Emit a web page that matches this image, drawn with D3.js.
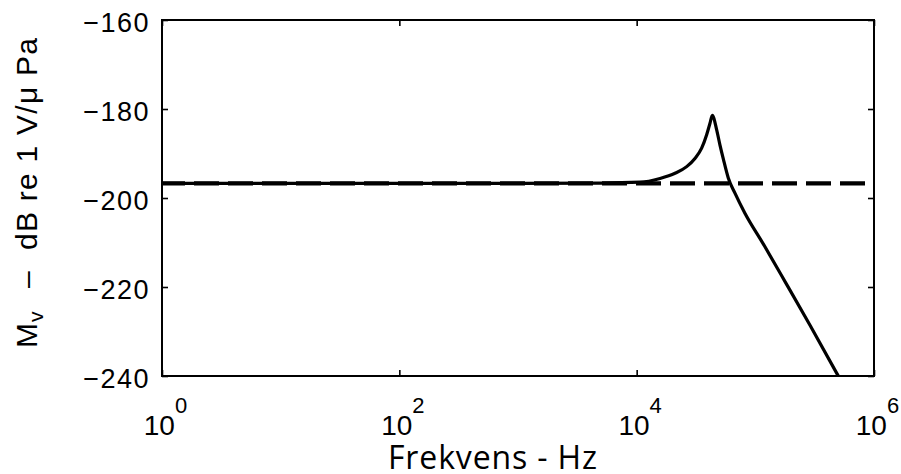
<!DOCTYPE html>
<html>
<head>
<meta charset="utf-8">
<script src="https://cdn.jsdelivr.net/npm/d3@7"></script>
<style>
  html, body { margin: 0; padding: 0; background: #fff; }
  svg { display: block; }
</style>
</head>
<body>
<svg id="chart" width="901" height="474"></svg>
<script>
// Receiving sensitivity M_v of the hydrophone versus frequency
const freqHz = [1, 10, 100, 1000, 5000, 10670, 15740, 21040, 26390, 30980, 35290,
                38890, 41480, 43380, 47230, 50360, 53710, 59160, 67340, 81700,
                116600, 183500, 289000, 500000];
const sensitivityDb = [-196.7, -196.7, -196.7, -196.7, -196.65, -196.45, -195.6, -194.45,
                       -192.95, -191.1, -188.8, -185.8, -183.2, -181.4, -184.7, -188.1,
                       -191.2, -195.5, -198.9, -203.4, -210.3, -219.4, -228.6, -240];
// Flat (low-frequency) reference level, drawn dashed across the whole band
const flatFreqHz = [1, 1e6];
const flatDb = [-196.7, -196.7];

const xTickValues = [1, 1e2, 1e4, 1e6];
const xTickExponents = ["0", "2", "4", "6"];
const yTickValues = [-160, -180, -200, -220, -240];

const svg = d3.select("#chart");
const plotLeft = 162, plotRight = 874, plotTop = 20, plotBottom = 376;

const x = d3.scaleLog().domain([1, 1e6]).range([plotLeft, plotRight]);
const y = d3.scaleLinear().domain([-240, -160]).range([plotBottom, plotTop]);

const tickFont = "'Liberation Sans', Arial, Helvetica, sans-serif";

// Axes with inward ticks on all four sides
const gLeft = svg.append("g").attr("transform", `translate(${plotLeft},0)`)
  .call(d3.axisLeft(y).tickValues(yTickValues).tickSizeInner(-6).tickSizeOuter(0).tickPadding(12));
gLeft.selectAll("text")
  .attr("font-family", tickFont).attr("font-size", 27).attr("letter-spacing", 1.5)
  .attr("dy", "0.43em").attr("fill", "#000");

svg.append("g").attr("transform", `translate(${plotRight},0)`)
  .call(d3.axisRight(y).tickValues(yTickValues).tickSizeInner(-6).tickSizeOuter(0).tickFormat(() => ""));

const gBottom = svg.append("g").attr("transform", `translate(0,${plotBottom})`)
  .call(d3.axisBottom(x).tickValues(xTickValues).tickSizeInner(-6).tickSizeOuter(0).tickFormat(() => ""));

svg.append("g").attr("transform", `translate(0,${plotTop})`)
  .call(d3.axisTop(x).tickValues(xTickValues).tickSizeInner(-6).tickSizeOuter(0).tickFormat(() => ""));

svg.selectAll(".domain").remove();
svg.selectAll(".tick line").attr("stroke", "#000").attr("stroke-width", 1.6);

// Power-of-ten labels under the bottom axis
gBottom.selectAll(".tick").each(function (d, i) {
  const t = d3.select(this).append("text")
    .attr("x", 3).attr("y", 59)
    .attr("text-anchor", "middle")
    .attr("font-family", tickFont)
    .attr("font-size", 28)
    .attr("fill", "#000");
  t.append("tspan").text("10");
  t.append("tspan").attr("dy", -22).attr("font-size", 22).text(xTickExponents[i]);
});

// Frame
svg.append("rect")
  .attr("x", plotLeft).attr("y", plotTop)
  .attr("width", plotRight - plotLeft).attr("height", plotBottom - plotTop)
  .attr("fill", "none").attr("stroke", "#000").attr("stroke-width", 2);

const line = d3.line()
  .x(d => x(d[0]))
  .y(d => y(d[1]));

// Dashed flat level
svg.append("path")
  .datum(flatFreqHz.map((f, i) => [f, flatDb[i]]))
  .attr("d", line)
  .attr("fill", "none")
  .attr("stroke", "#000")
  .attr("stroke-width", 4.2)
  .attr("stroke-dasharray", "25 9")
  .attr("stroke-dashoffset", 2);

// Sensitivity curve with the resonance peak
svg.append("path")
  .datum(freqHz.map((f, i) => [f, sensitivityDb[i]]))
  .attr("d", line.curve(d3.curveMonotoneX))
  .attr("fill", "none")
  .attr("stroke", "#000")
  .attr("stroke-width", 3.2)
  .attr("stroke-linejoin", "round");

// Vertical axis title, laid out piece by piece along the rotated baseline
const yLabel = svg.append("g")
  .attr("transform", "translate(36.5,348) rotate(-90)")
  .attr("font-family", tickFont)
  .attr("fill", "#000");
yLabel.append("text").attr("x", 0).attr("font-size", 30).text("M");
yLabel.append("text").attr("x", 26).attr("y", 6).attr("font-size", 21).text("v");
yLabel.append("text").attr("x", 60).attr("font-size", 30).text("\u2013");
yLabel.append("text").attr("x", 98).attr("font-size", 30)
  .attr("textLength", 212).attr("lengthAdjust", "spacing")
  .text("dB re 1 V/\u03bc Pa");

// Horizontal axis title
svg.append("text")
  .attr("x", 492.5).attr("y", 469)
  .attr("text-anchor", "middle")
  .attr("font-family", "'Open Sans', 'Noto Sans', sans-serif")
  .attr("font-size", 32)
  .attr("textLength", 209).attr("lengthAdjust", "spacing")
  .attr("fill", "#000")
  .text("Frekvens - Hz");
</script>
</body>
</html>
